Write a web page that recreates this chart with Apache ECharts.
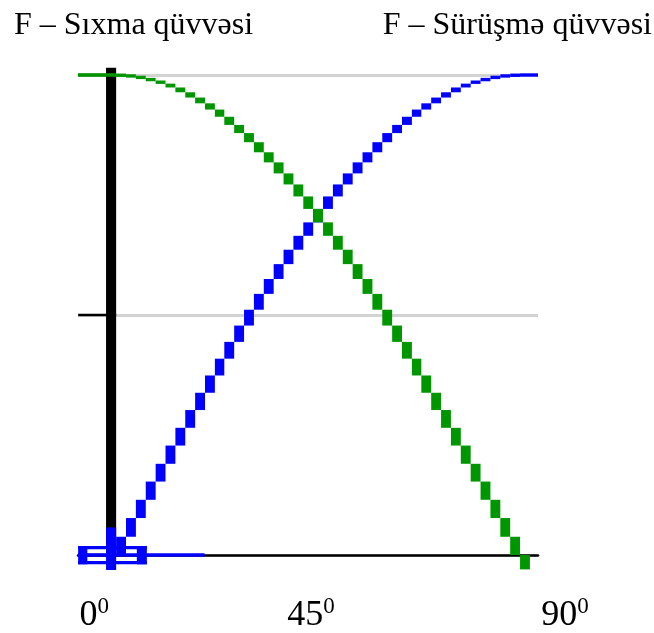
<!DOCTYPE html>
<html>
<head>
<meta charset="utf-8">
<script src="https://cdn.jsdelivr.net/npm/echarts@6/dist/echarts.min.js"></script>
<style>
	html, body { margin: 0; padding: 0; background: #fff; }
	#chart { width: 654px; height: 633px; }
</style>
</head>
<body>
<div id="chart"></div>
<script>
(function () {

	// angle of each drawn column, degrees
	var angles = [0, 2.2, 4.4, 6.6, 8.8, 11.0, 13.2, 15.4, 17.6, 19.8, 22.0, 24.1, 26.3, 28.5,
		30.7, 32.9, 35.1, 37.3, 39.5, 41.7, 43.9, 46.1, 48.3, 50.5, 52.7, 54.9, 57.1, 59.3,
		61.5, 63.7, 65.9, 68.0, 70.2, 72.4, 74.6, 76.8, 79.0, 81.2, 83.4, 85.6, 87.8, 90.0];

	// F – Sıxma qüvvəsi (green, falls)
	var compressValues = [1, 0.999, 0.997, 0.993, 0.988, 0.982, 0.974, 0.964, 0.953, 0.941, 0.928,
		0.913, 0.896, 0.879, 0.860, 0.839, 0.818, 0.795, 0.772, 0.747, 0.721, 0.693, 0.665, 0.636,
		0.606, 0.575, 0.544, 0.511, 0.478, 0.444, 0.409, 0.374, 0.338, 0.302, 0.265, 0.228, 0.190,
		0.153, 0.115, 0.077, 0.038, 0];

	// F – Sürüşmə qüvvəsi (blue, rises)
	var shearValues = [0, 0.038, 0.077, 0.115, 0.153, 0.190, 0.228, 0.265, 0.302, 0.338, 0.374,
		0.409, 0.444, 0.478, 0.511, 0.544, 0.575, 0.606, 0.636, 0.665, 0.693, 0.721, 0.747, 0.772,
		0.795, 0.818, 0.839, 0.860, 0.879, 0.896, 0.913, 0.928, 0.941, 0.953, 0.964, 0.974, 0.982,
		0.988, 0.993, 0.997, 0.999, 1];

	// the drawn lines run a little past 0..90
	var compressHead = [-8.5, 1];
	var compressTail = [92.2, -0.03];
	var shearTail = [94, 1];

	var tickAngles = [0, 45, 90];
	var titles = ['F – Sıxma qüvvəsi', 'F – Sürüşmə qüvvəsi'];

	var GREEN = '#009600', BLUE = '#0000ff', FONT = "'Liberation Serif', 'DejaVu Serif', serif";

	// the heavy left bar and the blue frame at the origin, as [x0, y0, x1, y1]
	var axisBar = [[-2.25, 1.015, 0, 0]];
	var originFrame = [
		[-8.5, 0, 19.7, 0],
		[-8.47, 0.0188, 6.84, 0.0119],
		[-8.47, -0.0125, 6.84, -0.0194],
		[-8.47, 0.0188, -6.42, -0.0194],
		[4.61, 0.0188, 6.84, -0.0194],
		[-2.25, 0.0573, 0, -0.0312]
	];

	// consecutive points -> one block per column
	function toBlocks(points) {
		var out = [];
		for (var i = 0; i < points.length - 1; i++) {
			out.push([points[i][0], points[i][1], points[i + 1][0], points[i + 1][1]]);
		}
		return out;
	}

	function zip(xs, ys) {
		return xs.map(function (x, i) { return [x, ys[i]]; });
	}

	var compressPoints = [compressHead].concat(zip(angles, compressValues), [compressTail]);
	var shearPoints = zip(angles, shearValues).concat([shearTail]);

	function renderBlock(params, api) {
		var p0 = api.coord([api.value(0), api.value(1)]);
		var p1 = api.coord([api.value(2), api.value(3)]);
		var x = Math.min(p0[0], p1[0]), w = Math.abs(p1[0] - p0[0]);
		var y = Math.min(p0[1], p1[1]), h = Math.abs(p1[1] - p0[1]);
		if (h < 3.4) {
			y = (p0[1] + p1[1]) / 2 - 1.7;
			h = 3.4;
		}
		return {
			type: 'rect',
			shape: { x: x, y: y, width: w, height: h },
			style: { fill: api.visual('color') }
		};
	}

	function blockSeries(data, color, z) {
		return {
			type: 'custom',
			renderItem: renderBlock,
			data: data,
			clip: false,
			silent: true,
			z: z,
			itemStyle: { color: color },
			encode: { x: [0, 2], y: [1, 3] }
		};
	}

	var labelShift = { 0: 's0', 45: 's45', 90: 's90' };
	var titleStyle = { fontFamily: FONT, fontSize: 32, fontWeight: 'normal', color: '#000' };

	var myChart = echarts.init(document.getElementById('chart'));
	myChart.setOption({
		animation: false,
		backgroundColor: '#fff',
		title: [
			{ text: titles[0], left: 14, top: 10, padding: 0, textStyle: titleStyle },
			{ text: titles[1], right: 2, top: 10, padding: 0, textStyle: titleStyle }
		],
		grid: { left: 78, right: 116, top: 75, bottom: 78, containLabel: false, outerBoundsMode: 'none' },
		xAxis: {
			type: 'value',
			min: -8.5,
			max: 94,
			splitLine: { show: false },
			axisTick: { show: false },
			axisLine: { lineStyle: { color: '#000', width: 2.5 } },
			axisLabel: {
				customValues: tickAngles,
				margin: 40,
				formatter: function (v) {
					return '{' + (v === 90 ? 'nR' : 'n') + '|' + v + '}{' + labelShift[v] + '|0}';
				},
				rich: {
					n: { fontFamily: FONT, fontSize: 36, lineHeight: 42, color: '#000' },
					nR: { fontFamily: FONT, fontSize: 36, lineHeight: 42, color: '#000', padding: [0, 0, 0, 90] },
					s0: { fontFamily: FONT, fontSize: 23, verticalAlign: 'top', color: '#000', padding: [0, 44, 0, 0] },
					s45: { fontFamily: FONT, fontSize: 23, verticalAlign: 'top', color: '#000', padding: [0, 14, 0, 0] },
					s90: { fontFamily: FONT, fontSize: 23, verticalAlign: 'top', color: '#000' }
				}
			}
		},
		yAxis: {
			type: 'value',
			min: 0,
			max: 1,
			interval: 0.5,
			offset: -33,
			axisLine: { show: false },
			axisLabel: { show: false },
			axisTick: { show: true, inside: false, length: 38, lineStyle: { color: '#000', width: 2.3 } },
			splitLine: { lineStyle: { color: '#d3d3d3', width: 3 } }
		},
		series: [
			blockSeries(axisBar, '#000', 2),
			blockSeries(originFrame, BLUE, 3),
			blockSeries(toBlocks(shearPoints), BLUE, 3),
			blockSeries(toBlocks(compressPoints), GREEN, 4)
		]
	});

})();
</script>
</body>
</html>
